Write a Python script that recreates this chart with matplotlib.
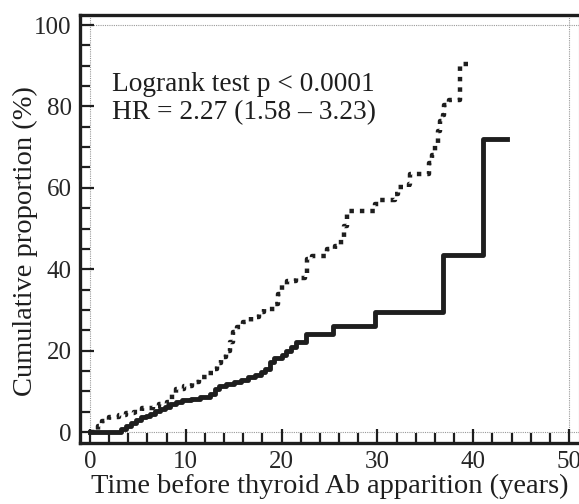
import matplotlib.pyplot as plt
from matplotlib.ticker import MultipleLocator

# step data: time (years) where the curve jumps, value after the jump (%)
solid_t = [0, 3.2, 3.8, 4.3, 4.8, 5.3, 5.8, 6.3, 6.8, 7.3, 7.8, 8.4, 9.0, 9.6, 10.5,
           11.5, 12.5, 13.0, 13.5, 14.2, 15.0, 15.8, 16.5, 17.2, 17.8, 18.3, 18.8,
           19.2, 20.0, 20.5, 21.0, 21.5, 22.5, 25.4, 29.8, 36.8, 41.0, 43.5]
solid_p = [0, 0.8, 1.5, 2.2, 2.9, 3.6, 4.0, 4.5, 5.1, 5.6, 6.2, 6.8, 7.3, 7.8, 8.2,
           8.6, 9.3, 10.5, 11.2, 11.8, 12.4, 12.9, 13.5, 14.0, 14.8, 15.6, 17.2,
           18.1, 19.0, 20.0, 20.8, 22.0, 24.0, 26.0, 29.5, 43.5, 72.0, 72.0]

dotted_t = [0, 0.8, 1.3, 2.0, 3.0, 3.8, 4.6, 5.4, 6.6, 7.2, 8.0, 8.6, 9.0, 9.8,
            10.6, 11.4, 12.2, 12.9, 13.3, 13.7, 14.2, 14.6, 14.9, 15.3, 16.0, 16.8,
            17.6, 18.2, 19.3, 19.6, 20.0, 20.6, 21.5, 22.4, 22.6, 23.2, 24.7, 25.6,
            26.2, 26.5, 26.8, 29.7, 30.2, 31.8, 32.2, 33.3, 33.4, 35.4, 35.7, 36.0,
            36.3, 36.5, 36.8, 37.0, 37.5, 38.6, 40.0]
dotted_p = [0, 1.5, 2.8, 3.6, 4.2, 4.6, 5.0, 6.0, 6.4, 7.0, 7.4, 9.5, 10.6, 11.4,
            12.4, 13.4, 14.4, 15.4, 17.0, 18.5, 20.0, 22.0, 24.5, 25.8, 27.0, 28.2,
            29.5, 30.2, 31.5, 34.0, 36.0, 37.2, 37.8, 39.0, 42.5, 43.2, 45.0, 45.8,
            47.8, 50.5, 54.4, 56.0, 57.0, 58.5, 60.2, 61.0, 63.5, 66.0, 68.0, 71.0,
            74.0, 76.5, 78.0, 80.3, 81.5, 90.5, 90.5]

x_ticks = [0, 10, 20, 30, 40, 50]
y_ticks = [0, 20, 40, 60, 80, 100]

plt.rcParams["font.family"] = ["Liberation Serif", "DejaVu Serif"]
ink = "#1e1e1e"

fig = plt.figure(figsize=(5.79, 5.04), dpi=100)
ax = fig.add_axes([80 / 579, 61 / 504, 499 / 579, 428 / 504])

# faint dotted frame at 0/50 and 0/100
for v in (0, 100):
    ax.axhline(v, xmin=0, xmax=1, color="#9a9a9a", lw=0.8, ls=(0, (1, 1)), zorder=1)
for v in (0, 50):
    ax.axvline(v, color="#9a9a9a", lw=0.8, ls=(0, (1, 1)), zorder=1)

ax.step(dotted_t, dotted_p, where="post", color=ink, lw=3.2,
        ls=(0, (1, 1.35)), dash_capstyle="butt", zorder=3)
ax.step(solid_t, solid_p, where="post", color=ink, lw=3.5, zorder=4)

ax.set_xlim(-1.04, 51.04)
ax.set_ylim(-2.7, 102.46)

ax.xaxis.set_major_locator(MultipleLocator(10))
ax.xaxis.set_minor_locator(MultipleLocator(2))
ax.yaxis.set_major_locator(MultipleLocator(20))
ax.yaxis.set_minor_locator(MultipleLocator(5))
ax.set_xticks(x_ticks)
ax.set_yticks(y_ticks)
ax.tick_params(which="both", direction="in", top=False, right=False,
               color=ink, width=1.6, labelsize=18, labelcolor="#262626")
ax.tick_params(which="major", length=10)
ax.tick_params(which="minor", length=7)
ax.tick_params(axis="x", pad=6)
ax.tick_params(axis="y", pad=6)

for side in ("left", "bottom", "top"):
    ax.spines[side].set_linewidth(2.4)
    ax.spines[side].set_color(ink)
ax.spines["right"].set_color("#b0b0b0")
ax.spines["right"].set_linewidth(0.8)

ax.set_xlabel("Time before thyroid Ab apparition (years)", fontsize=20.5, color=ink)
ax.set_ylabel("Cumulative proportion (%)", fontsize=20.5, color=ink)
ax.xaxis.set_label_coords(0.5, -0.071)
ax.yaxis.set_label_coords(-0.084, 0.472)

ax.text(2.3, 83.8, "Logrank test p < 0.0001", fontsize=19.7, color=ink, va="baseline")
ax.text(2.3, 76.9, "HR = 2.27 (1.58 \u2013 3.23)", fontsize=19.7, color=ink, va="baseline")

fig.savefig("out.png", dpi=100)
